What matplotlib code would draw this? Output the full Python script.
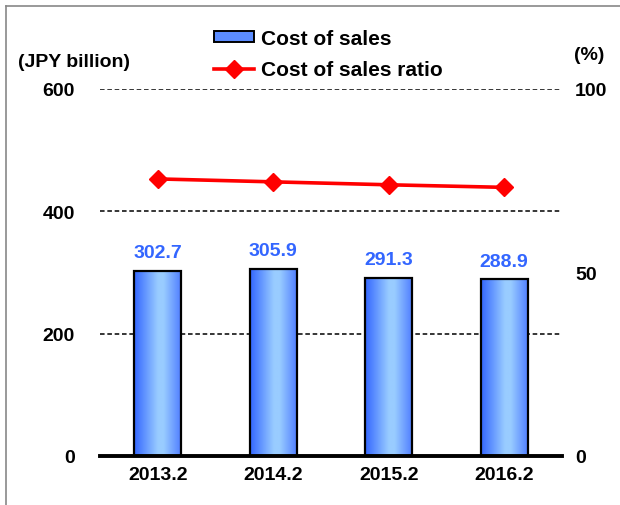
import matplotlib
matplotlib.use("Agg")
import matplotlib.pyplot as plt
import numpy as np
from matplotlib.colors import LinearSegmentedColormap
from matplotlib.lines import Line2D
from matplotlib.patches import Patch

plt.rcParams["font.family"] = ["Liberation Sans", "DejaVu Sans"]
plt.rcParams["font.weight"] = "bold"

years = ["2013.2", "2014.2", "2015.2", "2016.2"]
cost_of_sales = [302.7, 305.9, 291.3, 288.9]   # JPY billion
cost_ratio = [75.5, 74.7, 73.9, 73.2]          # %

W, H = 620, 506
fig = plt.figure(figsize=(W / 100, H / 100), dpi=100)
fig.patch.set_facecolor("white")

ax = fig.add_axes([100 / W, 1 - 457 / H, 462 / W, 367 / H])
x = np.arange(len(years))

bars = ax.bar(x, cost_of_sales, width=0.41, color="none", edgecolor="black",
              linewidth=1.6, zorder=3)

# horizontal blue gradient inside each bar
grad = LinearSegmentedColormap.from_list(
    "bar", [(0, "#3366ff"), (0.5, "#99ccff"), (0.62, "#99ccff"), (1, "#4d7bff")])
g = np.linspace(0, 1, 256).reshape(1, -1)
for b in bars:
    x0, w, h = b.get_x(), b.get_width(), b.get_height()
    im = ax.imshow(g, cmap=grad, extent=[x0, x0 + w, 0, h], aspect="auto",
                   zorder=2, interpolation="bilinear")
    im.set_clip_path(b)

for xi, v in zip(x, cost_of_sales):
    ax.annotate(f"{v:.1f}", (xi, v), xytext=(0, 7), textcoords="offset points",
                ha="center", va="bottom", color="#3366ff", fontsize=14,
                fontweight="bold")

ax.set_xlim(-0.5, len(years) - 0.5)
ax.set_ylim(0, 600)
ax.set_yticks([0, 200, 400, 600])
ax.set_xticks(x)
ax.set_xticklabels(years)
for yv in [200, 400, 600]:
    ax.axhline(yv, color="black", linestyle=(0, (3, 1.8)), linewidth=1.1, zorder=1)
for s in ["top", "right", "left"]:
    ax.spines[s].set_visible(False)
ax.spines["bottom"].set_linewidth(2.8)
ax.spines["bottom"].set_zorder(4)
ax.tick_params(axis="both", length=0, labelsize=14)
ax.tick_params(axis="y", pad=18)
ax.tick_params(axis="x", pad=7)

ax2 = ax.twinx()
ax2.plot(x, cost_ratio, color="#ff0000", linewidth=2.6, marker="D",
         markersize=9, zorder=5)
ax2.set_ylim(0, 100)
ax2.set_yticks([0, 50, 100])
for s in ["top", "right", "left", "bottom"]:
    ax2.spines[s].set_visible(False)
ax2.tick_params(axis="y", length=0, labelsize=14, pad=9.5)

fig.text(18 / W, 1 - 63 / H, "(JPY billion)", fontsize=14, fontweight="bold",
         ha="left", va="center")
fig.text(574 / W, 1 - 55 / H, "(%)", fontsize=14, fontweight="bold",
         ha="left", va="center")

handles = [Patch(facecolor="#5b8cff", edgecolor="black", linewidth=1.4),
           Line2D([], [], color="#ff0000", linewidth=2.6, marker="D", markersize=9)]
fig.legend(handles, ["Cost of sales", "Cost of sales ratio"], loc="upper left",
           bbox_to_anchor=(214 / W, 1 - 30 / H), frameon=False,
           handlelength=1.9, handleheight=0.45, handletextpad=0.35,
           labelspacing=0.6, borderpad=0, borderaxespad=0,
           prop={"weight": "bold", "size": 15})

# thin grey frame on top and left
fig.add_artist(Line2D([6 / W, 6 / W], [0, 1 - 7 / H], color="#888888",
                      linewidth=1.2, transform=fig.transFigure))
fig.add_artist(Line2D([6 / W, 1], [1 - 7 / H, 1 - 7 / H], color="#888888",
                      linewidth=1.2, transform=fig.transFigure))

fig.savefig("out.png", dpi=100, facecolor=fig.get_facecolor())
